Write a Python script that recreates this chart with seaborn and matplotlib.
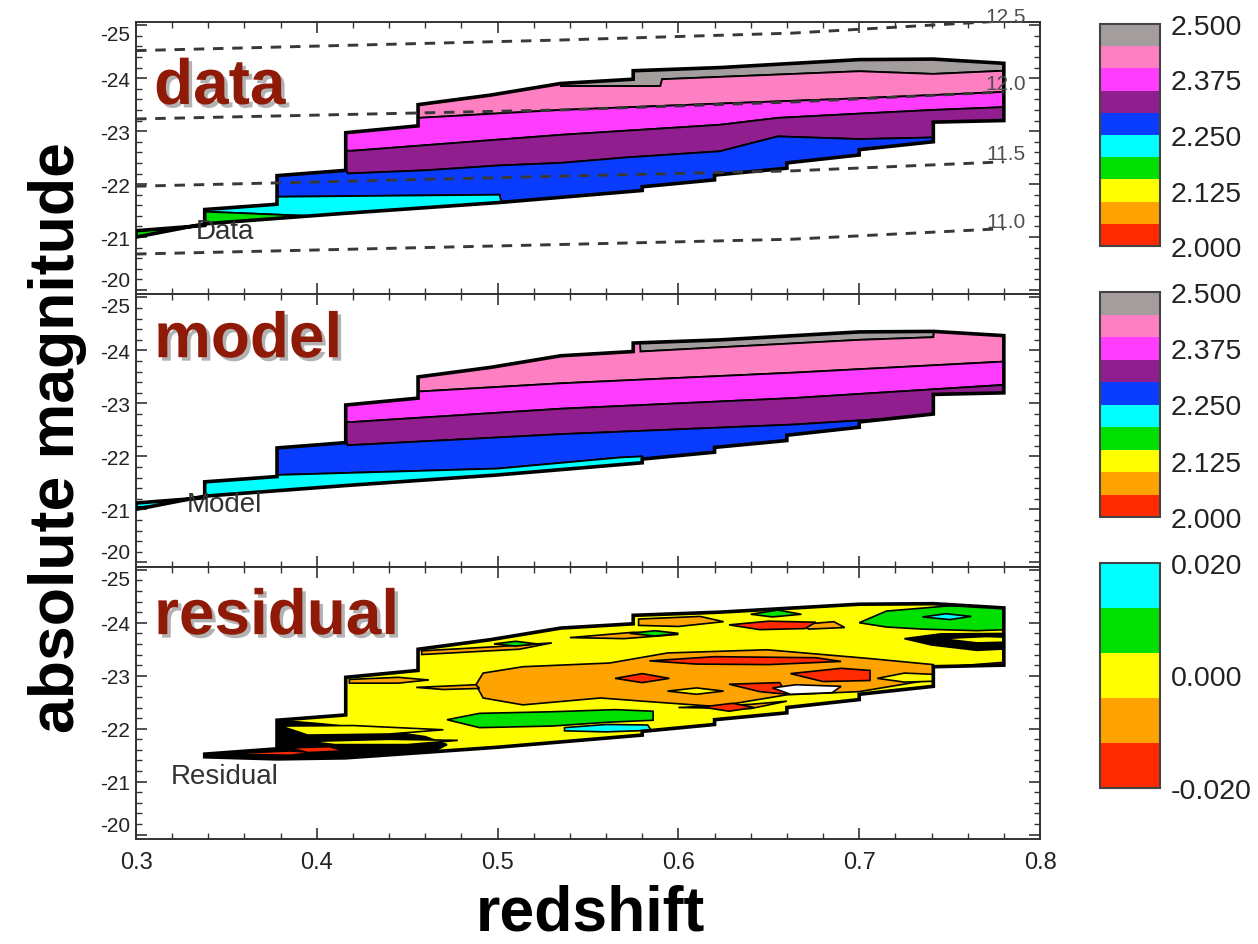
import numpy as np
import matplotlib
matplotlib.use("Agg")
import matplotlib.pyplot as plt
import matplotlib.patheffects as pe
from matplotlib.colors import ListedColormap, BoundaryNorm
from matplotlib.patches import Polygon
from matplotlib.ticker import FixedLocator, MultipleLocator, FormatStrFormatter
from matplotlib.cm import ScalarMappable
import seaborn as sns

sns.set_theme(style="ticks")
plt.rcParams["font.family"] = ["Liberation Sans", "DejaVu Sans"]
plt.rcParams["axes.unicode_minus"] = False

# ---------------- colour scales ----------------
DATA_COLORS = ["#ff2a00", "#ffa300", "#ffff00", "#00e000", "#00ffff",
               "#0a3cff", "#901e8e", "#ff3cff", "#ff80c2", "#a39d9d"]
DATA_EDGES = [2.00, 2.05, 2.10, 2.15, 2.20, 2.25, 2.30, 2.35, 2.40, 2.45, 2.50]
DATA_TICKS = [2.000, 2.125, 2.250, 2.375, 2.500]
DATA_MINOR = [2.0625, 2.1875, 2.3125, 2.4375]
RES_COLORS = ["#ff2a00", "#ffa300", "#ffff00", "#00e000", "#00ffff"]
RES_EDGES = [-0.020, -0.012, -0.004, 0.004, 0.012, 0.020]
RES_TICKS = [-0.020, 0.000, 0.020]
RES_MINOR = [-0.010, 0.010]

# ---------------- footprint (redshift, magnitude) ----------------
FOOT_UPPER = [(0.300, -21.12), (0.338, -21.22), (0.338, -21.52), (0.378, -21.62),
              (0.378, -22.16), (0.416, -22.26), (0.416, -22.97), (0.456, -23.10),
              (0.456, -23.50), (0.496, -23.68), (0.535, -23.90), (0.575, -23.98),
              (0.575, -24.14), (0.623, -24.20), (0.700, -24.35), (0.741, -24.36),
              (0.780, -24.28)]
FOOT_LOWER = [(0.300, -21.00), (0.338, -21.25), (0.416, -21.45), (0.500, -21.65),
              (0.580, -21.88), (0.580, -21.95), (0.620, -22.08), (0.620, -22.17),
              (0.660, -22.30), (0.660, -22.40), (0.700, -22.55), (0.700, -22.65),
              (0.741, -22.80), (0.741, -23.17), (0.780, -23.20)]
RES_LOWER_TIP = [(0.338, -21.47), (0.378, -21.43)]

# ---------------- data panel: band values (top -> bottom) and boundaries ----------------
DATA_VALUES = [2.475, 2.425, 2.375, 2.325, 2.275, 2.225, 2.175]
DATA_GRAY_PINK = [(0.28, -24.6), (0.534, -24.6), (0.535, -23.85), (0.590, -23.85),
                  (0.591, -23.98), (0.700, -24.13), (0.741, -24.08), (0.80, -24.17)]
DATA_PINK_MAGENTA = [(0.28, -23.25), (0.456, -23.25), (0.535, -23.40), (0.623, -23.52),
                     (0.700, -23.62), (0.80, -23.77)]
DATA_MAGENTA_PURPLE = [(0.28, -22.60), (0.420, -22.63), (0.535, -22.93), (0.623, -23.12),
                       (0.655, -23.25), (0.700, -23.33), (0.741, -23.40), (0.80, -23.48)]
DATA_PURPLE_BLUE = [(0.28, -22.40), (0.415, -22.40), (0.417, -22.20), (0.460, -22.26),
                    (0.500, -22.35), (0.535, -22.40), (0.570, -22.50), (0.623, -22.62),
                    (0.655, -22.90), (0.700, -22.85), (0.741, -22.88), (0.80, -22.95)]
DATA_BLUE_CYAN = [(0.28, -21.73), (0.501, -21.80), (0.503, -21.55), (0.80, -21.55)]
DATA_CYAN_GREEN = [(0.28, -21.25), (0.338, -21.48), (0.395, -21.40), (0.45, -21.00),
                   (0.80, -21.00)]

# ---------------- model panel ----------------
MODEL_VALUES = [2.475, 2.425, 2.375, 2.325, 2.275, 2.225, 2.175]
MODEL_GRAY_PINK = [(0.28, -24.6), (0.578, -24.6), (0.579, -23.98), (0.700, -24.20),
                   (0.741, -24.25), (0.742, -24.6), (0.80, -24.6)]
MODEL_PINK_MAGENTA = [(0.28, -23.00), (0.459, -23.23), (0.535, -23.38), (0.663, -23.58),
                      (0.780, -23.79), (0.80, -23.82)]
MODEL_MAGENTA_PURPLE = [(0.28, -22.55), (0.420, -22.65), (0.535, -22.90), (0.663, -23.10),
                        (0.780, -23.35), (0.80, -23.38)]
MODEL_PURPLE_BLUE = [(0.28, -22.40), (0.415, -22.40), (0.417, -22.21), (0.535, -22.42),
                     (0.663, -22.60), (0.743, -22.77), (0.80, -22.87)]
MODEL_BLUE_CYAN = [(0.28, -21.65), (0.378, -21.65), (0.500, -21.77), (0.568, -21.98),
                   (0.580, -22.00), (0.581, -21.80), (0.80, -21.80)]
MODEL_CYAN_GREEN = [(0.28, -21.00), (0.320, -21.08), (0.338, -21.20), (0.36, -21.00),
                    (0.80, -21.00)]

# ---------------- residual panel: patches per residual level ----------------
RES_BASE_LEVEL = 0.0
RES_ORANGE_LEVEL = -0.008
RES_RED_LEVEL = -0.016
RES_GREEN_LEVEL = 0.008
RES_CYAN_LEVEL = 0.016
RES_ORANGE = [
    [(0.488, -22.83), (0.492, -23.05), (0.514, -23.17), (0.562, -23.24), (0.594, -23.43),
     (0.649, -23.49), (0.704, -23.33), (0.741, -23.21), (0.744, -22.95), (0.700, -22.70),
     (0.660, -22.64), (0.621, -22.42), (0.584, -22.51), (0.557, -22.58), (0.514, -22.45),
     (0.492, -22.58)],
    [(0.418, -22.93), (0.445, -22.97), (0.462, -22.92), (0.445, -22.86), (0.418, -22.86)],
    [(0.458, -23.47), (0.500, -23.55), (0.530, -23.62), (0.512, -23.50), (0.458, -23.40)],
    [(0.578, -24.07), (0.612, -24.12), (0.625, -24.02), (0.600, -23.93), (0.578, -23.95)],
    [(0.668, -23.97), (0.686, -24.02), (0.692, -23.91), (0.672, -23.88)],
    [(0.748, -23.66), (0.770, -23.71), (0.772, -23.62), (0.750, -23.60)],
    [(0.540, -23.72), (0.575, -23.82), (0.600, -23.78), (0.570, -23.70)],
    [(0.455, -22.78), (0.488, -22.83), (0.490, -22.76), (0.470, -22.74)],
    [(0.600, -22.40), (0.640, -22.46), (0.660, -22.52), (0.640, -22.38)],
]
RES_GREEN = [
    [(0.472, -22.17), (0.490, -22.29), (0.530, -22.32), (0.565, -22.36), (0.586, -22.33),
     (0.586, -22.16), (0.560, -22.12), (0.530, -22.05), (0.490, -22.02)],
    [(0.700, -24.00), (0.715, -24.22), (0.750, -24.32), (0.790, -24.32), (0.790, -23.88),
     (0.765, -23.85), (0.735, -23.88), (0.715, -23.92)],
    [(0.573, -23.80), (0.587, -23.85), (0.600, -23.80), (0.587, -23.75)],
    [(0.640, -24.16), (0.655, -24.24), (0.668, -24.16), (0.652, -24.11)],
    [(0.440, -21.58), (0.452, -21.63), (0.465, -21.58), (0.452, -21.54)],
    [(0.498, -23.60), (0.510, -23.65), (0.522, -23.60), (0.510, -23.56)],
]
RES_CYAN = [
    [(0.537, -22.02), (0.560, -22.08), (0.583, -22.07), (0.585, -21.97), (0.560, -21.94),
     (0.537, -21.96)],
    [(0.735, -24.11), (0.748, -24.17), (0.762, -24.12), (0.750, -24.06)],
]
RES_BLACK = [
    [(0.336, -21.56), (0.378, -22.16), (0.400, -22.10), (0.430, -22.00), (0.460, -21.85),
     (0.472, -21.70), (0.462, -21.52), (0.420, -21.42), (0.378, -21.40), (0.336, -21.44)],
    [(0.725, -23.70), (0.745, -23.79), (0.790, -23.80), (0.790, -23.52), (0.765, -23.48),
     (0.740, -23.58)],
]
RES_YELLOW = [
    [(0.380, -22.05), (0.420, -22.06), (0.470, -21.98), (0.440, -21.90), (0.395, -21.88)],
    [(0.395, -21.76), (0.440, -21.80), (0.478, -21.78), (0.450, -21.70), (0.410, -21.70)],
    [(0.594, -22.71), (0.610, -22.77), (0.625, -22.71), (0.610, -22.65)],
    [(0.710, -22.95), (0.725, -23.05), (0.745, -23.02), (0.745, -22.90), (0.725, -22.88)],
    [(0.745, -23.70), (0.770, -23.74), (0.790, -23.72), (0.790, -23.64), (0.765, -23.62)],
]
RES_RED = [
    [(0.565, -22.95), (0.580, -23.04), (0.595, -22.95), (0.580, -22.87)],
    [(0.584, -23.28), (0.620, -23.36), (0.676, -23.34), (0.690, -23.27), (0.650, -23.21),
     (0.610, -23.22)],
    [(0.628, -23.96), (0.650, -24.03), (0.676, -24.01), (0.670, -23.89), (0.645, -23.87)],
    [(0.628, -22.84), (0.656, -22.87), (0.660, -22.65), (0.645, -22.70)],
    [(0.662, -23.04), (0.690, -23.14), (0.706, -23.10), (0.706, -22.91), (0.680, -22.89)],
    [(0.745, -23.16), (0.790, -23.28), (0.790, -23.17), (0.760, -23.12)],
    [(0.613, -22.41), (0.630, -22.48), (0.642, -22.40), (0.628, -22.33)],
    [(0.345, -21.52), (0.385, -21.58), (0.400, -21.55), (0.385, -21.50)],
    [(0.385, -21.64), (0.407, -21.66), (0.415, -21.58), (0.395, -21.55)],
]
RES_HOLES = [
    [(0.652, -22.77), (0.665, -22.83), (0.690, -22.80), (0.685, -22.68), (0.662, -22.65)],
]

# ---------------- constant-mass dashed lines ----------------
MASS_Z = [0.300, 0.535, 0.663, 0.780]
MASS_11_0 = [-20.68, -20.86, -20.96, -21.16]
MASS_11_5 = [-21.96, -22.15, -22.25, -22.42]
MASS_12_0 = [-23.23, -23.40, -23.55, -23.74]
MASS_12_5 = [-24.52, -24.72, -24.85, -25.08]
MASS_LABELS = ["11.0", "11.5", "12.0", "12.5"]
MASS_LABEL_MAG = [-21.30, -22.57, -23.89, -25.16]
MASS_LABEL_Z = 0.781

PANEL_NAMES = ["data", "model", "residual"]
INSET_NAMES = ["Data", "Model", "Residual"]
Y_TICKS = [-25, -24, -23, -22, -21, -20]

# ---------------- figure ----------------
cmap_d = ListedColormap(DATA_COLORS)
norm_d = BoundaryNorm(DATA_EDGES, cmap_d.N)
cmap_r = ListedColormap(RES_COLORS)
norm_r = BoundaryNorm(RES_EDGES, cmap_r.N)

W, H = 1258, 945
fig = plt.figure(figsize=(W / 100, H / 100), dpi=100)
panel_px = 272.3
tops = [23.0, 23.0 + panel_px, 23.0 + 2 * panel_px]
axes = []
for t in tops:
    axes.append(fig.add_axes([136 / W, 1 - (t + panel_px) / H, 904 / W, panel_px / H]))


def outline_of(upper, lower):
    return np.array(upper + lower[::-1])


def clip_for(ax, outline):
    return Polygon(outline, closed=True, transform=ax.transData)


def draw_bands(ax, bounds, values, outline):
    clip = clip_for(ax, outline)
    seq = [[(0.28, -26.0), (0.82, -26.0)]] + bounds + [[(0.28, -19.0), (0.82, -19.0)]]
    for i, v in enumerate(values):
        pts = np.array(seq[i] + seq[i + 1][::-1])
        art, = ax.fill(pts[:, 0], pts[:, 1], facecolor=cmap_d(norm_d(v)),
                       edgecolor="black", linewidth=1.3, zorder=2)
        art.set_clip_path(clip)
    ax.add_patch(Polygon(outline, closed=True, fill=False, edgecolor="black",
                         linewidth=2.6, zorder=4, joinstyle="miter"))


foot = outline_of(FOOT_UPPER, FOOT_LOWER)
draw_bands(axes[0], [DATA_GRAY_PINK, DATA_PINK_MAGENTA, DATA_MAGENTA_PURPLE,
                     DATA_PURPLE_BLUE, DATA_BLUE_CYAN, DATA_CYAN_GREEN], DATA_VALUES, foot)
draw_bands(axes[1], [MODEL_GRAY_PINK, MODEL_PINK_MAGENTA, MODEL_MAGENTA_PURPLE,
                     MODEL_PURPLE_BLUE, MODEL_BLUE_CYAN, MODEL_CYAN_GREEN], MODEL_VALUES, foot)

# residual panel
axr = axes[2]
res_outline = outline_of(FOOT_UPPER[2:], RES_LOWER_TIP + FOOT_LOWER[2:])
rclip = clip_for(axr, res_outline)
base = Polygon(res_outline, closed=True, facecolor=cmap_r(norm_r(RES_BASE_LEVEL)),
               edgecolor="none", zorder=1.5)
axr.add_patch(base)
layers = [(RES_ORANGE, cmap_r(norm_r(RES_ORANGE_LEVEL))),
          (RES_GREEN, cmap_r(norm_r(RES_GREEN_LEVEL))),
          (RES_CYAN, cmap_r(norm_r(RES_CYAN_LEVEL))),
          (RES_BLACK, "black"),
          (RES_YELLOW, cmap_r(norm_r(RES_BASE_LEVEL))),
          (RES_RED, cmap_r(norm_r(RES_RED_LEVEL))),
          (RES_HOLES, "white")]
for plist, col in layers:
    for nodes in plist:
        p = Polygon(nodes, closed=True, facecolor=col, edgecolor="black",
                    linewidth=1.2, zorder=2)
        axr.add_patch(p)
        p.set_clip_path(rclip)
axr.add_patch(Polygon(res_outline, closed=True, fill=False, edgecolor="black",
                      linewidth=2.6, zorder=4, joinstyle="miter"))

# dashed constant-mass lines on the data panel
ax0 = axes[0]
for mm in [MASS_11_0, MASS_11_5, MASS_12_0, MASS_12_5]:
    sns.lineplot(x=MASS_Z, y=mm, ax=ax0, color="#383838", linewidth=2.1,
                 sort=False, errorbar=None, zorder=5)
    ax0.lines[-1].set_dashes([3.6, 3.0])
for lab, lm in zip(MASS_LABELS, MASS_LABEL_MAG):
    ax0.text(MASS_LABEL_Z, lm, lab, fontsize=15, color="#505050", ha="center",
             va="center", zorder=6, clip_on=False)

# axes cosmetics
for i, ax in enumerate(axes):
    ax.set_xlim(0.3, 0.8)
    ax.set_ylim(-19.92, -25.06)
    ax.xaxis.set_major_locator(MultipleLocator(0.1))
    ax.xaxis.set_minor_locator(MultipleLocator(0.02))
    ax.xaxis.set_major_formatter(FormatStrFormatter("%.1f"))
    ax.yaxis.set_major_locator(FixedLocator(Y_TICKS))
    ax.yaxis.set_minor_locator(MultipleLocator(0.2))
    ax.yaxis.set_major_formatter(FormatStrFormatter("%d"))
    ax.tick_params(which="both", direction="in", top=True, right=True,
                   colors="#333333", labelcolor="#222222")
    ax.tick_params(which="major", length=8, width=1.2, labelsize=15, pad=4)
    ax.tick_params(which="minor", length=4, width=1.0)
    ax.tick_params(axis="x", labelsize=17, pad=9)
    if i < 2:
        ax.tick_params(axis="x", labelbottom=False)
    for s in ax.spines.values():
        s.set_color("#333333")
        s.set_linewidth(1.4)
    ax.set_xlabel("")
    ax.set_ylabel("")
    ax.set_facecolor("white")
    yt = ax.yaxis.get_major_ticks()
    yt[0].label1.set_verticalalignment("top")
    yt[-1].label1.set_verticalalignment("bottom")

label_y = [0.699, 0.769, 0.752]
for ax, name, ly, inset in zip(axes, PANEL_NAMES, label_y, INSET_NAMES):
    ax.text(0.020, ly, name, transform=ax.transAxes, fontsize=46, fontweight="bold",
            color="#8f1a08", ha="left", va="baseline", zorder=7,
            path_effects=[pe.withSimplePatchShadow(offset=(2.5, -2.5),
                                                   shadow_rgbFace="#000000", alpha=0.3)])
    ax.text(0.349, -21.11, inset, fontsize=20, color="#333333", ha="center",
            va="center", zorder=6)

# colour bars
cb_boxes = [(25, 247), (293, 518), (564, 789)]
cb_specs = [(norm_d, cmap_d, DATA_TICKS, DATA_MINOR),
            (norm_d, cmap_d, DATA_TICKS, DATA_MINOR),
            (norm_r, cmap_r, RES_TICKS, RES_MINOR)]
for (t, b), (nm, cm, tks, mn) in zip(cb_boxes, cb_specs):
    cax = fig.add_axes([1100 / W, 1 - b / H, 60 / W, (b - t) / H])
    cb = fig.colorbar(ScalarMappable(norm=nm, cmap=cm), cax=cax, spacing="proportional",
                      ticks=tks, format="%.3f")
    cb.set_ticks(mn, minor=True)
    cb.ax.tick_params(which="both", direction="in", right=True, left=False,
                      length=5, width=1.2, colors="#333333", labelcolor="#222222")
    cb.ax.tick_params(which="major", labelsize=20.5, pad=8)
    cb.outline.set_edgecolor("#444444")
    cb.outline.set_linewidth(1.5)

fig.text(0.046, 0.537, "absolute magnitude", rotation=90, ha="center", va="center",
         fontsize=45, fontweight="bold", color="black")
fig.text(0.469, 0.002, "redshift", ha="center", va="bottom",
         fontsize=45, fontweight="bold", color="black")

fig.savefig("out.png", dpi=100)
